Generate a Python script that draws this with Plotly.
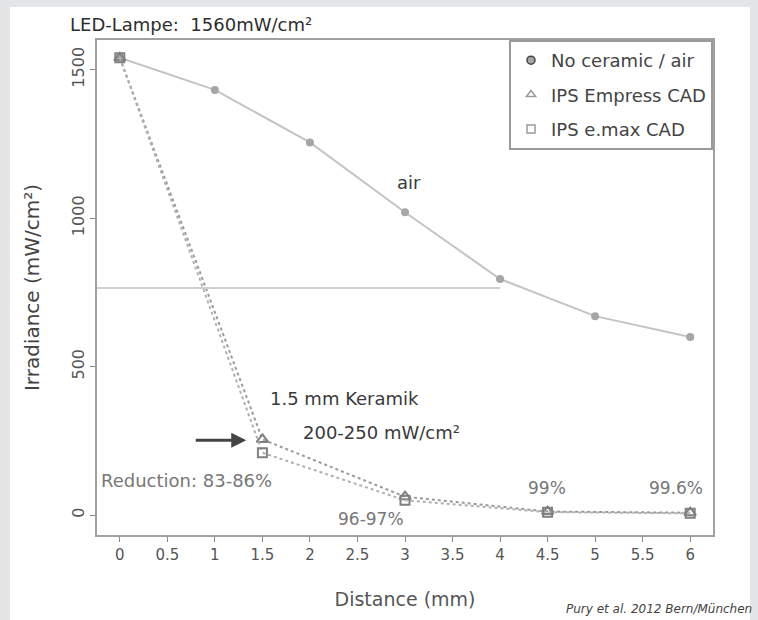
import plotly.graph_objects as go

# ---- data ----
distance_air = [0, 1, 2, 3, 4, 5, 6]
irr_air = [1540, 1432, 1255, 1020, 795, 670, 600]

distance_ceramic = [0, 1.5, 3, 4.5, 6]
irr_empress = [1540, 255, 62, 12, 8]
irr_emax = [1540, 210, 50, 10, 6]

series_names = ["No ceramic / air", "IPS Empress CAD", "IPS e.max CAD"]
x_ticks = [0, 0.5, 1, 1.5, 2, 2.5, 3, 3.5, 4, 4.5, 5, 5.5, 6]
x_tick_labels = ["0", "0.5", "1", "1.5", "2", "2.5", "3", "3.5", "4", "4.5", "5", "5.5", "6"]
y_ticks = [0, 500, 1000, 1500]
half_level = 765

FONT = "DejaVu Sans"
DARK = "#3a3a3a"

fig = go.Figure()

# main curves
fig.add_trace(go.Scatter(
    x=distance_air, y=irr_air, mode="lines+markers", showlegend=False,
    line=dict(color="#c4c4c4", width=2),
    marker=dict(symbol="circle", size=8, color="#a6a6a6"),
))
fig.add_trace(go.Scatter(
    x=distance_ceramic, y=irr_empress, mode="lines+markers", showlegend=False,
    line=dict(color="#9a9a9a", width=2, dash="dot"),
    marker=dict(symbol="triangle-up-open", size=10, color="#808080", line=dict(width=2)),
))
fig.add_trace(go.Scatter(
    x=distance_ceramic, y=irr_emax, mode="lines+markers", showlegend=False,
    line=dict(color="#b0b0b0", width=2, dash="dot"),
    marker=dict(symbol="square-open", size=9, color="#808080", line=dict(width=2)),
))

# legend entries (symbols only)
for name, sym, col in zip(series_names,
                          ["circle", "triangle-up-open", "square-open"],
                          ["#a6a6a6", "#9a9a9a", "#9a9a9a"]):
    fig.add_trace(go.Scatter(
        x=[None], y=[None], mode="markers", name=name, legendgroup=name,
        marker=dict(symbol=sym, size=8, color=col, line=dict(width=1.5)),
    ))

# white page panel and 50% reference line
fig.add_shape(type="rect", xref="paper", yref="paper",
              x0=-0.1412, x1=1.060, y0=-0.175, y1=1.0667,
              fillcolor="white", line=dict(width=0), layer="below")
fig.add_shape(type="line", xref="paper", yref="y",
              x0=0, x1=(4 + 0.24) / 6.48, y0=half_level, y1=half_level,
              line=dict(color="#cfcfcf", width=2))

def txt(x, y, s, size=18, color=DARK, xref="x", yref="y", xanchor="center", italic=False):
    fig.add_annotation(x=x, y=y, xref=xref, yref=yref, text=s, showarrow=False,
                       xanchor=xanchor, yanchor="middle",
                       font=dict(family=FONT, size=size, color=color,
                                 style="italic" if italic else "normal"))

txt(-0.047, 1.032, "LED-Lampe:  1560mW/cm²", size=18, color="#2e2e2e",
    xref="paper", yref="paper", xanchor="left")
txt(3.04, 1121, "air", size=18)
txt(2.36, 394, "1.5 mm Keramik", size=18)
txt(2.75, 279, "200-250 mW/cm²", size=18)
txt(0.70, 118, "Reduction: 83-86%", size=18, color="#777777")
txt(2.64, -12, "96-97%", size=17, color="#777777")
txt(4.49, 91, "99%", size=17, color="#777777")
txt(5.85, 91, "99.6%", size=17, color="#777777")
txt(1.066, -0.149, "Pury et al. 2012 Bern/München", size=12, color="#444444",
    xref="paper", yref="paper", xanchor="right", italic=True)

# arrow
fig.add_annotation(x=1.33, y=252, ax=-52, ay=0, xref="x", yref="y",
                   showarrow=True, arrowhead=2, arrowsize=1, arrowwidth=3,
                   arrowcolor="#444444", text="")

fig.update_layout(
    width=758, height=620,
    margin=dict(l=97, r=45, t=40, b=85),
    paper_bgcolor="#e4e5e7", plot_bgcolor="white",
    font=dict(family=FONT, color=DARK),
    legend=dict(x=1, y=1, xanchor="right", yanchor="top",
                bgcolor="white", bordercolor="#9a9a9a", borderwidth=2,
                font=dict(family=FONT, size=18, color="#444444"),
                tracegroupgap=8, itemwidth=30, entrywidth=218),
    xaxis=dict(range=[-0.24, 6.24], tickmode="array", tickvals=x_ticks,
               ticktext=x_tick_labels, ticks="outside", ticklen=5, tickcolor="#888",
               showgrid=False, zeroline=False, showline=True, mirror=True,
               linecolor="#a0a0a0", linewidth=2,
               tickfont=dict(family=FONT, size=15, color="#555555"),
               title=dict(text="Distance (mm)", standoff=30,
                          font=dict(family=FONT, size=19, color="#555555"))),
    yaxis=dict(range=[-67, 1600], tickmode="array", tickvals=y_ticks,
               ticks="outside", ticklen=5, tickcolor="#888", tickangle=-90,
               showgrid=False, zeroline=False, showline=True, mirror=True,
               linecolor="#a0a0a0", linewidth=2,
               tickfont=dict(family=FONT, size=16, color="#555555"),
               title=dict(text="Irradiance (mW/cm²)", standoff=24,
                          font=dict(family=FONT, size=20, color="#444444"))),
)

fig.write_html("out.html", config={"displayModeBar": False},
               post_script="document.body.style.margin='0';document.body.style.overflow='hidden';")
